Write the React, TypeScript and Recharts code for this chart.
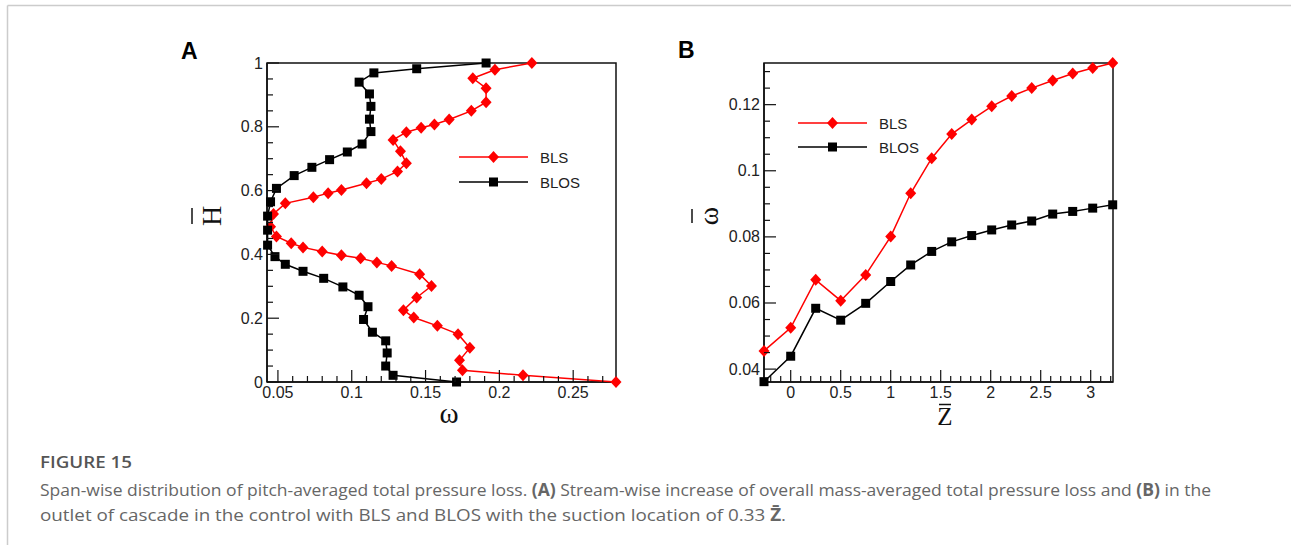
import React from 'react';
import { ScatterChart, Scatter, XAxis, YAxis, ReferenceArea, Legend } from 'recharts';

// (A) span-wise distribution, read from H = 0 upward
const blsSpanOmega = [
  0.279, 0.216, 0.175, 0.173, 0.18, 0.172, 0.158, 0.142, 0.135, 0.144, 0.154, 0.146, 0.127, 0.117,
  0.106, 0.093, 0.08, 0.067, 0.059, 0.049, 0.045, 0.047, 0.055, 0.074, 0.084, 0.093, 0.11, 0.12,
  0.131, 0.137, 0.133, 0.128, 0.137, 0.147, 0.156, 0.166, 0.181, 0.191, 0.191, 0.182, 0.197, 0.222,
];
const blsSpanH = [
  0, 0.021, 0.037, 0.068, 0.107, 0.15, 0.176, 0.202, 0.225, 0.265, 0.301, 0.338, 0.364, 0.375,
  0.388, 0.397, 0.409, 0.422, 0.435, 0.456, 0.487, 0.527, 0.56, 0.579, 0.592, 0.602, 0.623, 0.636,
  0.66, 0.686, 0.723, 0.759, 0.783, 0.797, 0.807, 0.823, 0.85, 0.877, 0.921, 0.952, 0.979, 1.0,
];
const blosSpanOmega = [
  0.171, 0.128, 0.123, 0.124, 0.123, 0.114, 0.108, 0.111, 0.105, 0.094, 0.081, 0.067, 0.055, 0.048,
  0.043, 0.043, 0.043, 0.045, 0.049, 0.061, 0.073, 0.085, 0.097, 0.107, 0.113, 0.112, 0.113, 0.112,
  0.105, 0.115, 0.144, 0.191,
];
const blosSpanH = [
  0, 0.021, 0.05, 0.091, 0.129, 0.156, 0.196, 0.236, 0.272, 0.298, 0.325, 0.347, 0.369, 0.393,
  0.429, 0.476, 0.52, 0.565, 0.607, 0.647, 0.673, 0.697, 0.721, 0.746, 0.785, 0.824, 0.864, 0.903,
  0.94, 0.969, 0.982, 1.0,
];

// (B) stream-wise increase
const streamZ = [-0.267, 0, 0.25, 0.5, 0.75, 1.0, 1.2, 1.41, 1.61, 1.81, 2.01, 2.21, 2.41, 2.62, 2.82, 3.02, 3.22];
const blsStreamOmega = [
  0.0455, 0.0525, 0.067, 0.0607, 0.0685, 0.0801, 0.0932, 0.1038, 0.1111, 0.1155, 0.1195, 0.1226,
  0.125, 0.1273, 0.1294, 0.1311, 0.1326,
];
const blosStreamOmega = [
  0.0362, 0.0439, 0.0584, 0.0548, 0.0599, 0.0665, 0.0715, 0.0756, 0.0785, 0.0804, 0.0821, 0.0836,
  0.0848, 0.0869, 0.0877, 0.0887, 0.0897,
];

const spanXTicks = [0.05, 0.1, 0.15, 0.2, 0.25];
const spanYTicks = [0, 0.2, 0.4, 0.6, 0.8, 1];
const streamXTicks = [0, 0.5, 1, 1.5, 2, 2.5, 3];
const streamYTicks = [0.04, 0.06, 0.08, 0.1, 0.12];

const seriesNames = ['BLS', 'BLOS'];

const RED = '#ff0000';
const BLACK = '#000000';
const AXIS = '#111111';
const TICK_FONT = 'Liberation Sans, Arial, sans-serif';

const toPoints = (xs: number[], ys: number[]) => xs.map((x, i) => ({ x, y: ys[i] }));

// minor tick positions (axis decoration only)
const steps = (from: number, to: number, step: number) => {
  const out: number[] = [];
  for (let v = from; v <= to + 1e-9; v += step) out.push(Math.round(v * 10000) / 10000);
  return out;
};

const fmt = (v: number) => String(Math.round(v * 1000) / 1000);
const isMajor = (majors: number[], v: number) => majors.some((m) => Math.abs(m - v) < 1e-6);

const bottomTick = (majors: number[]) => (props: any) => {
  const { x, y, payload } = props;
  const major = isMajor(majors, payload.value);
  return (
    <g>
      <line x1={x} x2={x} y1={y} y2={y - (major ? 12 : 6)} stroke={AXIS} strokeWidth={1.2} />
      {major && (
        <text x={x} y={y + 16} textAnchor="middle" fontSize={16} fill="#222" fontFamily={TICK_FONT}>
          {fmt(payload.value)}
        </text>
      )}
    </g>
  );
};

const leftTick = (majors: number[]) => (props: any) => {
  const { x, y, payload } = props;
  const major = isMajor(majors, payload.value);
  return (
    <g>
      <line x1={x} x2={x + (major ? 12 : 6)} y1={y} y2={y} stroke={AXIS} strokeWidth={1.2} />
      {major && (
        <text x={x - 4} y={y + 5.5} textAnchor="end" fontSize={16} fill="#222" fontFamily={TICK_FONT}>
          {fmt(payload.value)}
        </text>
      )}
    </g>
  );
};

const Diamond = (props: any) => {
  const { cx, cy } = props;
  return <path d={`M${cx},${cy - 6} L${cx + 5.5},${cy} L${cx},${cy + 6} L${cx - 5.5},${cy} Z`} fill={RED} />;
};

const Square = (props: any) => {
  const { cx, cy } = props;
  return <rect x={cx - 4.5} y={cy - 4.5} width={9} height={9} fill={BLACK} />;
};

const LegendBox = ({ gap }: { gap: number }) => (
  <svg width={150} height={30 + gap}>
    <line x1={0} x2={69} y1={10} y2={10} stroke={RED} strokeWidth={1.5} />
    <Diamond cx={34.5} cy={10} />
    <text x={81} y={15.5} fontSize={15} fill="#222" fontFamily={TICK_FONT}>{seriesNames[0]}</text>
    <line x1={0} x2={69} y1={10 + gap} y2={10 + gap} stroke={BLACK} strokeWidth={1.5} />
    <Square cx={34.5} cy={10 + gap} />
    <text x={81} y={15.5 + gap} fontSize={15} fill="#222" fontFamily={TICK_FONT}>{seriesNames[1]}</text>
  </svg>
);

const spanXDomain: [number, number] = [0.0426, 0.279];
const spanYDomain: [number, number] = [0, 1];
const streamXDomain: [number, number] = [-0.267, 3.223];
const streamYDomain: [number, number] = [0.0361, 0.1326];

const SpanChart = () => (
  <ScatterChart width={480} height={420} margin={{ top: 33, right: 24, bottom: 38, left: 47 }}>
    <XAxis
      type="number"
      dataKey="x"
      domain={spanXDomain}
      ticks={steps(0.05, 0.27, 0.01)}
      interval={0}
      height={30}
      tickSize={0}
      tickMargin={0}
      tickLine={false}
      axisLine={{ stroke: AXIS, strokeWidth: 1.5 }}
      tick={bottomTick(spanXTicks)}
    />
    <YAxis
      type="number"
      dataKey="y"
      domain={spanYDomain}
      ticks={steps(0, 1, 0.05)}
      interval={0}
      width={60}
      tickSize={0}
      tickMargin={0}
      tickLine={false}
      axisLine={{ stroke: AXIS, strokeWidth: 1.5 }}
      tick={leftTick(spanYTicks)}
    />
    <ReferenceArea
      x1={spanXDomain[0]}
      x2={spanXDomain[1]}
      y1={spanYDomain[0]}
      y2={spanYDomain[1]}
      fill="none"
      stroke={AXIS}
      strokeWidth={1.5}
    />
    <Legend
      layout="vertical"
      align="center"
      verticalAlign="middle"
      wrapperStyle={{ left: 299, top: 117, width: 150 }}
      content={() => <LegendBox gap={25} />}
    />
    <Scatter
      name={seriesNames[0]}
      data={toPoints(blsSpanOmega, blsSpanH)}
      fill={RED}
      line={{ stroke: RED, strokeWidth: 1.5 }}
      shape={(p: any) => <Diamond {...p} />}
      isAnimationActive={false}
    />
    <Scatter
      name={seriesNames[1]}
      data={toPoints(blosSpanOmega, blosSpanH)}
      fill={BLACK}
      line={{ stroke: BLACK, strokeWidth: 1.5 }}
      shape={(p: any) => <Square {...p} />}
      isAnimationActive={false}
    />
  </ScatterChart>
);

const StreamChart = () => (
  <ScatterChart width={460} height={420} margin={{ top: 33, right: 27, bottom: 38, left: 24 }}>
    <XAxis
      type="number"
      dataKey="x"
      domain={streamXDomain}
      ticks={steps(-0.2, 3.2, 0.1)}
      interval={0}
      height={30}
      tickSize={0}
      tickMargin={0}
      tickLine={false}
      axisLine={{ stroke: AXIS, strokeWidth: 1.5 }}
      tick={bottomTick(streamXTicks)}
    />
    <YAxis
      type="number"
      dataKey="y"
      domain={streamYDomain}
      ticks={steps(0.04, 0.13, 0.005)}
      interval={0}
      width={60}
      tickSize={0}
      tickMargin={0}
      tickLine={false}
      axisLine={{ stroke: AXIS, strokeWidth: 1.5 }}
      tick={leftTick(streamYTicks)}
    />
    <ReferenceArea
      x1={streamXDomain[0]}
      x2={streamXDomain[1]}
      y1={streamYDomain[0]}
      y2={streamYDomain[1]}
      fill="none"
      stroke={AXIS}
      strokeWidth={1.5}
    />
    <Legend
      layout="vertical"
      align="center"
      verticalAlign="middle"
      wrapperStyle={{ left: 118, top: 83, width: 150 }}
      content={() => <LegendBox gap={24} />}
    />
    <Scatter
      name={seriesNames[0]}
      data={toPoints(streamZ, blsStreamOmega)}
      fill={RED}
      line={{ stroke: RED, strokeWidth: 1.5 }}
      shape={(p: any) => <Diamond {...p} />}
      isAnimationActive={false}
    />
    <Scatter
      name={seriesNames[1]}
      data={toPoints(streamZ, blosStreamOmega)}
      fill={BLACK}
      line={{ stroke: BLACK, strokeWidth: 1.5 }}
      shape={(p: any) => <Square {...p} />}
      isAnimationActive={false}
    />
  </ScatterChart>
);

const SERIF = 'Liberation Serif, Times New Roman, serif';
const CAPTION_FONT = 'Open Sans, Noto Sans, sans-serif';

export default function App() {
  return (
    <div style={{ position: 'absolute', left: 0, top: 0, width: 1291, height: 545, background: '#fff', overflow: 'hidden' }}>
      <div style={{ position: 'absolute', left: 160, top: 30 }}>
        <SpanChart />
      </div>
      <div style={{ position: 'absolute', left: 680, top: 30 }}>
        <StreamChart />
      </div>
      <svg width={1291} height={545} style={{ position: 'absolute', left: 0, top: 0, pointerEvents: 'none' }}>
        <line x1={7.5} x2={1291} y1={5.5} y2={5.5} stroke="#cccccc" strokeWidth={1.5} />
        <line x1={7.5} x2={7.5} y1={5.5} y2={545} stroke="#cccccc" strokeWidth={1.5} />

        <text x={181} y={59} fontSize={23} fontWeight="bold" fontFamily={TICK_FONT} fill="#000">A</text>
        <text x={678} y={58} fontSize={23} fontWeight="bold" fontFamily={TICK_FONT} fill="#000">B</text>

        {/* axis titles */}
        <g transform="translate(211,216) rotate(-90)">
          <text x={0} y={10} textAnchor="middle" fontSize={28} fontFamily={SERIF} fill="#111">H</text>
          <line x1={-8} x2={8} y1={-19} y2={-19} stroke="#111" strokeWidth={1.5} />
        </g>
        <text x={449} y={423} textAnchor="middle" fontSize={29} fontFamily={SERIF} fill="#111">ω</text>

        <g transform="translate(710,216) rotate(-90)">
          <text x={0} y={8} textAnchor="middle" fontSize={28} fontFamily={SERIF} fill="#111">ω</text>
          <line x1={-7} x2={7} y1={-18} y2={-18} stroke="#111" strokeWidth={1.5} />
        </g>
        <text x={945} y={425} textAnchor="middle" fontSize={25} fontFamily={SERIF} fill="#111">Z</text>
        <line x1={939} x2={951} y1={404.5} y2={404.5} stroke="#111" strokeWidth={1.5} />

        {/* caption */}
        <text x={40} y={468} fontSize={16} fontWeight={600} fill="#555" fontFamily={CAPTION_FONT} textLength={92} lengthAdjust="spacingAndGlyphs">
          FIGURE 15
        </text>
        <text x={40} y={496} fontSize={17} fill="#666" fontFamily={CAPTION_FONT} textLength={1171} lengthAdjust="spacingAndGlyphs">
          Span-wise distribution of pitch-averaged total pressure loss. <tspan fontWeight="bold">(A)</tspan> Stream-wise increase of overall mass-averaged total pressure loss and <tspan fontWeight="bold">(B)</tspan> in the
        </text>
        <text x={40} y={521} fontSize={17} fill="#666" fontFamily={CAPTION_FONT} textLength={746} lengthAdjust="spacingAndGlyphs">
          outlet of cascade in the control with BLS and BLOS with the suction location of 0.33 <tspan fontWeight="bold">Z̄</tspan>.
        </text>
      </svg>
    </div>
  );
}
